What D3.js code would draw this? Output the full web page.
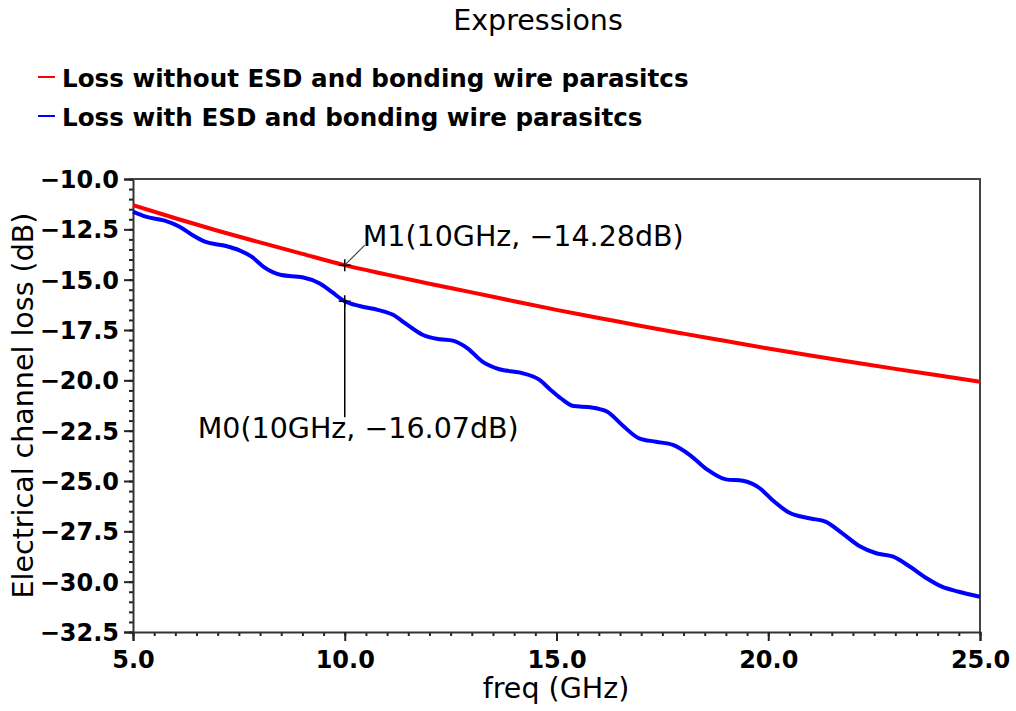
<!DOCTYPE html>
<html><head><meta charset="utf-8">
<script src="https://cdn.jsdelivr.net/npm/d3@7"></script>
<style>body{margin:0;background:#fff;} svg{display:block;}</style>
</head><body>
<svg id="chart" width="1016" height="711"></svg>
<script>
const titleText = "Expressions";
const seriesNames = ["Loss without ESD and bonding wire parasitcs", "Loss with ESD and bonding wire parasitcs"];
const seriesColors = ["#ff0000", "#0000ff"];
const redFreq = [5,6,7,8,9,10,11,12,13,14,15,16,17,18,19,20,21,22,23,24,25];
const redLoss = [-11.3,-11.95,-12.57,-13.15,-13.72,-14.28,-14.75,-15.2,-15.63,-16.07,-16.5,-16.9,-17.3,-17.68,-18.05,-18.42,-18.77,-19.1,-19.43,-19.75,-20.07];
const blueFreq = [5.0,5.3,5.75,6.1,6.4,6.7,7.2,7.5,7.8,8.1,8.5,9.0,9.4,9.7,10.0,10.35,10.8,11.15,11.45,11.85,12.25,12.55,12.9,13.25,13.65,14.15,14.6,14.85,15.1,15.4,15.8,16.2,16.55,16.95,17.35,17.75,18.15,18.55,19.0,19.4,19.8,20.1,20.5,21.0,21.35,21.75,22.15,22.55,22.95,23.35,23.75,24.1,24.5,25.0];
const blueLoss = [-11.62,-11.87,-12.07,-12.37,-12.78,-13.11,-13.33,-13.53,-13.86,-14.39,-14.77,-14.88,-15.18,-15.62,-16.07,-16.31,-16.51,-16.76,-17.2,-17.75,-17.96,-18.03,-18.41,-19.07,-19.45,-19.62,-19.98,-20.45,-20.89,-21.28,-21.34,-21.56,-22.22,-22.88,-23.05,-23.21,-23.71,-24.42,-24.92,-24.99,-25.36,-25.95,-26.58,-26.86,-27.02,-27.6,-28.23,-28.59,-28.76,-29.26,-29.84,-30.25,-30.5,-30.75];
const xTicks = [5,10,15,20,25];
const yTicks = [-10,-12.5,-15,-17.5,-20,-22.5,-25,-27.5,-30,-32.5];
const markers = [
  {name:"M1", freq:10, value:-14.28},
  {name:"M0", freq:10, value:-16.07}
];
const xTitle = "freq (GHz)";
const yTitle = "Electrical channel loss (dB)";

const svg = d3.select("#chart");
const L = 133, R = 980, T = 179, B = 632;
const x = d3.scaleLinear().domain([5,25]).range([L,R]);
const y = d3.scaleLinear().domain([-32.5,-10]).range([B,T]);
const FONT = "'DejaVu Sans', Verdana, sans-serif";
const NORMAL = 28.5, BOLD = 24.6, TICK = 24;

// title
svg.append("text").attr("x",538).attr("y",30).attr("text-anchor","middle")
  .attr("font-family",FONT).attr("font-size",NORMAL).attr("fill","#000").text(titleText);

// legend
seriesNames.forEach((n,i)=>{
  const ly = 77 + i*39;
  svg.append("line").attr("x1",38).attr("x2",55).attr("y1",ly).attr("y2",ly)
    .attr("stroke",seriesColors[i]).attr("stroke-width",2);
  svg.append("text").attr("x",62).attr("y",ly+10).attr("font-family",FONT)
    .attr("font-weight","bold").attr("font-size",BOLD).attr("fill","#000").text(n);
});

// minor ticks
const gxm = svg.append("g").attr("transform",`translate(0,${B})`)
  .call(d3.axisBottom(x).tickValues(d3.range(5,25.001,0.5)).tickSize(4).tickFormat(""));
const gym = svg.append("g").attr("transform",`translate(${L},0)`)
  .call(d3.axisLeft(y).tickValues(d3.range(-32.5,-9.999,0.5)).tickSize(4).tickFormat(""));
[gxm,gym].forEach(g=>{g.select(".domain").remove(); g.selectAll("line").attr("stroke","#222").attr("stroke-width",2);});

// major axes
const gx = svg.append("g").attr("transform",`translate(0,${B})`)
  .call(d3.axisBottom(x).tickValues(xTicks).tickSize(9).tickPadding(8).tickFormat(d3.format(".1f")));
const gy = svg.append("g").attr("transform",`translate(${L},0)`)
  .call(d3.axisLeft(y).tickValues(yTicks).tickSize(9).tickPadding(5).tickFormat(d3.format(".1f")));
[gx,gy].forEach(g=>{
  g.select(".domain").attr("stroke","#333").attr("stroke-width",2);
  g.selectAll(".tick line").attr("stroke","#222").attr("stroke-width",2);
  g.selectAll(".tick text").attr("font-family",FONT).attr("font-size",TICK)
    .attr("font-weight","bold").attr("fill","#000");
});
gx.selectAll(".tick text").attr("dy","0.8em");
gy.selectAll(".tick text").attr("dy","0.36em");

// frame top/right
svg.append("path").attr("d",`M${L},${T}H${R}V${B}`).attr("fill","none")
  .attr("stroke","#444").attr("stroke-width",2);

// axis titles
svg.append("text").attr("x",556).attr("y",698).attr("text-anchor","middle")
  .attr("font-family",FONT).attr("font-size",NORMAL).attr("fill","#000").text(xTitle);
svg.append("text").attr("transform",`translate(33,${(T+B)/2}) rotate(-90)`).attr("text-anchor","middle")
  .attr("font-family",FONT).attr("font-size",NORMAL).attr("fill","#000").text(yTitle);

// lines
const line = d3.line().x(d=>x(d[0])).y(d=>y(d[1])).curve(d3.curveMonotoneX);
svg.append("path").datum(redFreq.map((f,i)=>[f,redLoss[i]])).attr("d",line)
  .attr("fill","none").attr("stroke",seriesColors[0]).attr("stroke-width",4);
svg.append("path").datum(blueFreq.map((f,i)=>[f,blueLoss[i]])).attr("d",line)
  .attr("fill","none").attr("stroke",seriesColors[1]).attr("stroke-width",4);

// markers
const fmt = d3.format(".2f");
markers.forEach((m,i)=>{
  const mx = x(m.freq), my = y(m.value);
  svg.append("path").attr("d",`M${mx-6},${my}H${mx+6}M${mx},${my-6}V${my+6}`)
    .attr("stroke","#000").attr("stroke-width",1.5);
  const label = `${m.name}(${m.freq}GHz, ${fmt(m.value).replace("-","\u2212")}dB)`;
  if (i===0) {
    svg.append("line").attr("x1",mx).attr("y1",my).attr("x2",mx+20).attr("y2",my-20)
      .attr("stroke","#444").attr("stroke-width",1.2);
    svg.append("text").attr("x",mx+18).attr("y",my-19).attr("font-family",FONT)
      .attr("font-size",NORMAL).attr("fill","#000").text(label);
  } else {
    svg.append("line").attr("x1",mx).attr("y1",my).attr("x2",mx).attr("y2",my+116)
      .attr("stroke","#000").attr("stroke-width",1.5);
    svg.append("text").attr("x",mx-147).attr("y",my+137).attr("font-family",FONT)
      .attr("font-size",NORMAL).attr("fill","#000").text(label);
  }
});
</script>
</body></html>
